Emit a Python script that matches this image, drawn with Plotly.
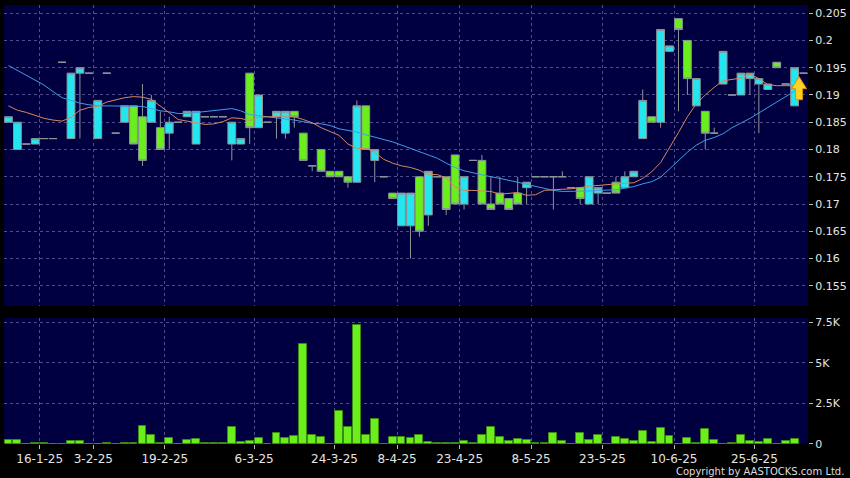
import plotly.graph_objects as go

# ---------------- data ----------------
opens = [0.185, 0.180, 0.181, 0.181, 0.182, 0.182, 0.196, 0.182, 0.194, 0.194,
         0.182, 0.194, 0.183, 0.185, 0.188, 0.186, 0.185, 0.184, 0.183, 0.185,
         0.186, 0.181, 0.186, 0.186, 0.186, 0.181, 0.181, 0.194, 0.184, 0.185,
         0.186, 0.183, 0.187, 0.183, 0.177, 0.180, 0.176, 0.176, 0.175, 0.174,
         0.188, 0.178, 0.175, 0.172, 0.166, 0.166, 0.175, 0.168, 0.175, 0.175,
         0.179, 0.170, 0.178, 0.178, 0.170, 0.172, 0.171, 0.172, 0.173, 0.175,
         0.175, 0.175, 0.175, 0.173, 0.173, 0.170, 0.172, 0.172, 0.174, 0.173,
         0.175, 0.182, 0.186, 0.185, 0.198, 0.204, 0.200, 0.188, 0.187, 0.183,
         0.192, 0.190, 0.190, 0.193, 0.192, 0.191, 0.196, 0.192, 0.188, 0.194]
highs = [0.186, 0.185, 0.181, 0.182, 0.182, 0.182, 0.196, 0.194, 0.195, 0.194,
         0.189, 0.194, 0.183, 0.188, 0.188, 0.192, 0.190, 0.187, 0.186, 0.185,
         0.187, 0.187, 0.186, 0.186, 0.186, 0.185, 0.182, 0.194, 0.190, 0.185,
         0.187, 0.187, 0.187, 0.183, 0.177, 0.180, 0.176, 0.176, 0.175, 0.189,
         0.188, 0.180, 0.175, 0.172, 0.172, 0.172, 0.175, 0.176, 0.175, 0.175,
         0.179, 0.175, 0.178, 0.179, 0.175, 0.175, 0.171, 0.175, 0.174, 0.175,
         0.175, 0.175, 0.176, 0.173, 0.173, 0.175, 0.173, 0.172, 0.175, 0.176,
         0.176, 0.191, 0.186, 0.202, 0.199, 0.204, 0.200, 0.193, 0.187, 0.184,
         0.198, 0.190, 0.194, 0.194, 0.193, 0.192, 0.196, 0.192, 0.195, 0.194]
lows = [0.185, 0.180, 0.181, 0.181, 0.182, 0.182, 0.196, 0.182, 0.182, 0.194,
        0.182, 0.194, 0.183, 0.185, 0.181, 0.177, 0.185, 0.180, 0.180, 0.185,
        0.186, 0.181, 0.186, 0.186, 0.186, 0.178, 0.181, 0.181, 0.184, 0.185,
        0.182, 0.182, 0.184, 0.178, 0.176, 0.176, 0.175, 0.175, 0.173, 0.174,
        0.180, 0.174, 0.175, 0.171, 0.166, 0.160, 0.164, 0.166, 0.175, 0.168,
        0.170, 0.169, 0.178, 0.170, 0.169, 0.170, 0.169, 0.170, 0.170, 0.175,
        0.175, 0.169, 0.175, 0.173, 0.170, 0.170, 0.170, 0.172, 0.172, 0.173,
        0.175, 0.182, 0.185, 0.184, 0.198, 0.187, 0.190, 0.188, 0.180, 0.183,
        0.192, 0.190, 0.190, 0.190, 0.183, 0.191, 0.195, 0.192, 0.188, 0.194]
closes = [0.186, 0.185, 0.181, 0.182, 0.182, 0.182, 0.196, 0.194, 0.195, 0.194,
          0.189, 0.194, 0.183, 0.188, 0.181, 0.178, 0.189, 0.180, 0.185, 0.185,
          0.187, 0.187, 0.186, 0.186, 0.186, 0.185, 0.182, 0.184, 0.190, 0.185,
          0.187, 0.187, 0.186, 0.178, 0.177, 0.176, 0.175, 0.175, 0.174, 0.188,
          0.180, 0.180, 0.175, 0.171, 0.172, 0.172, 0.165, 0.176, 0.175, 0.169,
          0.170, 0.175, 0.178, 0.170, 0.169, 0.170, 0.169, 0.170, 0.174, 0.175,
          0.175, 0.175, 0.175, 0.173, 0.171, 0.175, 0.173, 0.172, 0.172, 0.175,
          0.176, 0.189, 0.185, 0.202, 0.199, 0.202, 0.193, 0.193, 0.183, 0.183,
          0.198, 0.190, 0.194, 0.194, 0.193, 0.192, 0.195, 0.192, 0.195, 0.194]

ma_fast = [0.1880, 0.1872, 0.1868, 0.1862, 0.1857, 0.1854, 0.1852, 0.1859, 0.1872, 0.1877,
           0.1879, 0.1887, 0.1891, 0.1895, 0.1897, 0.1896, 0.1892, 0.1880, 0.1867, 0.1855,
           0.1852, 0.1849, 0.1846, 0.1847, 0.1851, 0.1858, 0.1857, 0.1853, 0.1859, 0.1860,
           0.1860, 0.1860, 0.1860, 0.1855, 0.1849, 0.1840, 0.1833, 0.1826, 0.1810, 0.1802,
           0.1802, 0.1795, 0.1782, 0.1775, 0.1770, 0.1767, 0.1762, 0.1754, 0.1754, 0.1748,
           0.1731, 0.1725, 0.1725, 0.1724, 0.1723, 0.1718, 0.1720, 0.1721, 0.1716, 0.1717,
           0.1725, 0.1726, 0.1726, 0.1728, 0.1730, 0.1733, 0.1734, 0.1736, 0.1737, 0.1738,
           0.1739, 0.1747, 0.1759, 0.1776, 0.1803, 0.1831, 0.1860, 0.1884, 0.1900, 0.1914,
           0.1926, 0.1929, 0.1931, 0.1938, 0.1930, 0.1919, 0.1917, 0.1917, 0.1917, None]
ma_slow = [0.1954, 0.1945, 0.1936, 0.1927, 0.1918, 0.1906, 0.1895, 0.1890, 0.1885, 0.1882,
           0.1880, 0.1880, 0.1880, 0.1880, 0.1880, 0.1879, 0.1875, 0.1871, 0.1869, 0.1866,
           0.1866, 0.1868, 0.1870, 0.1871, 0.1873, 0.1875, 0.1871, 0.1864, 0.1862, 0.1860,
           0.1859, 0.1856, 0.1854, 0.1851, 0.1848, 0.1847, 0.1844, 0.1838, 0.1835, 0.1832,
           0.1827, 0.1823, 0.1819, 0.1814, 0.1808, 0.1802, 0.1795, 0.1789, 0.1784, 0.1775,
           0.1767, 0.1761, 0.1757, 0.1753, 0.1750, 0.1747, 0.1744, 0.1740, 0.1736, 0.1732,
           0.1728, 0.1725, 0.1723, 0.1723, 0.1723, 0.1724, 0.1725, 0.1726, 0.1726, 0.1729,
           0.1732, 0.1737, 0.1741, 0.1749, 0.1764, 0.1779, 0.1795, 0.1808, 0.1817, 0.1822,
           0.1829, 0.1840, 0.1848, 0.1857, 0.1867, 0.1877, 0.1887, 0.1897, 0.1907, None]

volume = [225, 225, 0, 50, 50, 0, 0, 205, 165, 0,
          0, 60, 0, 50, 50, 1090, 580, 80, 390, 0,
          250, 330, 50, 50, 50, 1030, 125, 205, 370, 0,
          680, 390, 515, 6140, 580, 450, 30, 2000, 1050, 7340,
          580, 1530, 0, 410, 410, 350, 580, 100, 70, 40,
          40, 185, 80, 580, 1070, 450, 185, 330, 250, 60,
          60, 680, 205, 0, 680, 270, 535, 30, 450, 330,
          185, 825, 125, 990, 515, 0, 390, 50, 950, 270,
          0, 50, 535, 205, 125, 310, 0, 185, 330, None]

date_tick_bar = [4, 10, 18, 28, 37, 44, 51, 59, 67, 75, 84]
date_tick_labels = ['16-1-25', '3-2-25', '19-2-25', '6-3-25', '24-3-25', '8-4-25',
                    '23-4-25', '8-5-25', '23-5-25', '10-6-25', '25-6-25']
price_ticks = [0.155, 0.16, 0.165, 0.17, 0.175, 0.18, 0.185, 0.19, 0.195, 0.2, 0.205]
price_tick_labels = ['0.155', '0.16', '0.165', '0.17', '0.175', '0.18', '0.185',
                     '0.19', '0.195', '0.2', '0.205']
vol_ticks = [0, 2500, 5000, 7500]
vol_tick_labels = ['0', '2.5K', '5K', '7.5K']

# ---------------- styling ----------------
CYAN = '#24e6f0'
LIME = '#6aee1c'
EDGE = '#8c9696'
GRID = '#4e4e8e'
TEXT = '#e4e4e4'
FONT = 'DejaVu Sans'

n = len(closes)
bars = list(range(n))
xrange_ = [-0.5, n - 0.5]
grid_x = [b - 0.5 for b in date_tick_bar]

fig = go.Figure()

fig.add_trace(go.Candlestick(
    x=bars, open=opens, high=highs, low=lows, close=closes,
    increasing=dict(fillcolor=CYAN, line=dict(color=EDGE, width=1)),
    decreasing=dict(fillcolor=LIME, line=dict(color=EDGE, width=1)),
    whiskerwidth=0, xaxis='x', yaxis='y', showlegend=False))

fig.add_trace(go.Scatter(x=bars, y=ma_slow, mode='lines',
                         line=dict(color='#3e9de6', width=1),
                         xaxis='x', yaxis='y', showlegend=False))
fig.add_trace(go.Scatter(x=bars, y=ma_fast, mode='lines',
                         line=dict(color='#d8875e', width=1),
                         xaxis='x', yaxis='y', showlegend=False))

fig.add_trace(go.Bar(x=bars, y=volume, width=0.88,
                     marker=dict(color=LIME, line=dict(color='#3a8a14', width=1)),
                     xaxis='x2', yaxis='y2', showlegend=False))

common_x = dict(range=xrange_, tickmode='array', tickvals=grid_x,
                showgrid=True, gridcolor=GRID, griddash='3px,3px', gridwidth=1,
                zeroline=False, showline=False)

fig.update_layout(
    width=850, height=478,
    paper_bgcolor='black', plot_bgcolor='#000040',
    margin=dict(l=4, r=42, t=5, b=34),
    showlegend=False,
    boxgap=0.1, boxgroupgap=0.03,
    bargap=0,
    font=dict(family=FONT, color=TEXT),
    xaxis=dict(**common_x, anchor='y', showticklabels=False, ticks='',
               rangeslider=dict(visible=False)),
    yaxis=dict(domain=[0.3144, 1], range=[0.1513, 0.2065], side='right',
               tickmode='array', tickvals=price_ticks, ticktext=price_tick_labels,
               ticks='outside', ticklen=4, tickcolor='#bbbbbb',
               tickfont=dict(family=FONT, size=11, color=TEXT),
               showgrid=True, gridcolor=GRID, griddash='3px,3px', zeroline=False),
    xaxis2=dict(**common_x, anchor='y2', ticktext=date_tick_labels,
                ticks='outside', ticklen=4, tickcolor='#bbbbbb',
                tickfont=dict(family=FONT, size=12, color=TEXT)),
    yaxis2=dict(domain=[0, 0.287], range=[0, 7750], side='right',
                tickmode='array', tickvals=vol_ticks, ticktext=vol_tick_labels,
                ticks='outside', ticklen=4, tickcolor='#bbbbbb',
                tickfont=dict(family=FONT, size=11, color=TEXT),
                showgrid=True, gridcolor=GRID, griddash='3px,3px', zeroline=False),
    annotations=[dict(text='Copyright by AASTOCKS.com Ltd.', xref='paper', yref='paper',
                      x=1.047, y=-0.062, xanchor='right', yanchor='middle', showarrow=False,
                      font=dict(family=FONT, size=10, color='#dddddd'))],
    shapes=[dict(type='path', xref='x', yref='y', xsizemode='pixel', ysizemode='pixel',
                 xanchor=n - 1.5, yanchor=ma_fast[n - 2],
                 path='M0,9 L7.5,-3 L3.5,-3 L3.5,-14 L-3.5,-14 L-3.5,-3 L-7.5,-3 Z',
                 fillcolor='#ffd324', line=dict(color='#e08c00', width=1), layer='above')],
)

fig.write_html('out.html', config={'displayModeBar': False},
               post_script="document.body.style.margin='0px';"
                           "document.body.style.background='black';")
